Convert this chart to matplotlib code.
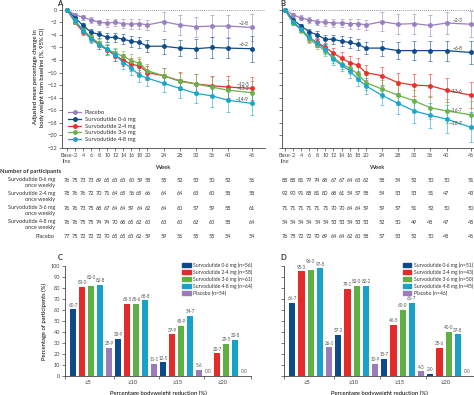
import matplotlib.pyplot as plt
import matplotlib.transforms as mtransforms
from matplotlib.colors import to_rgba
from matplotlib.patches import Patch

plt.rcParams['font.family'] = ['Lato', 'DejaVu Sans']
plt.rcParams['font.size'] = 4
plt.rcParams['axes.edgecolor'] = '#444444'
plt.rcParams['xtick.color'] = '#444444'
plt.rcParams['ytick.color'] = '#444444'
plt.rcParams['text.color'] = '#333333'

# ---- data ----
weeks = [0, 2, 4, 6, 8, 10, 12, 14, 16, 18, 20, 24, 28, 32, 36, 40, 46]
week_labels = ['Base-\nline', '2', '4', '6', '8', '10', '12', '14', '16', '18', '20',
               '24', '28', '32', '36', '40', '46']

series_names = ['Placebo', 'Survodutide 0·6 mg', 'Survodutide 2·4 mg',
                'Survodutide 3·6 mg', 'Survodutide 4·8 mg']
colors = ['#9a7fc0', '#0f4c8a', '#e8302c', '#6cb24a', '#1aa6cc']

# panel A: mean % change
a_placebo = [0, -0.8, -1.2, -1.6, -2.0, -2.1, -2.0, -2.2, -2.3, -2.2, -2.4, -1.9, -2.4, -2.7, -2.6, -2.6, -2.8]
a_06 = [0, -1.3, -2.5, -3.6, -3.9, -4.4, -4.4, -4.7, -5.0, -5.2, -5.8, -5.8, -6.1, -6.2, -6.0, -6.1, -6.2]
a_24 = [0, -2.0, -3.5, -4.5, -5.6, -6.4, -7.3, -8.0, -8.7, -8.9, -10.0, -10.5, -11.3, -11.8, -12.1, -12.3, -12.5]
a_36 = [0, -1.9, -3.2, -4.4, -5.3, -6.3, -6.9, -7.4, -8.1, -8.5, -9.7, -10.5, -11.4, -11.8, -12.3, -12.8, -13.2]
a_48 = [0, -1.7, -3.3, -4.7, -5.6, -6.3, -7.2, -8.4, -9.3, -10.4, -10.9, -11.7, -12.5, -13.3, -13.7, -14.4, -14.9]
a_err_placebo = [0, 0.3, 0.4, 0.45, 0.45, 0.6, 0.6, 0.7, 0.8, 0.8, 0.8, 1.5, 1.6, 1.6, 1.8, 1.8, 2.2]
a_err_06 = [0, 0.3, 0.4, 0.5, 0.6, 0.7, 0.7, 0.8, 0.9, 0.9, 1.0, 1.2, 1.3, 1.5, 1.6, 1.6, 2.1]
a_err_24 = [0, 0.3, 0.45, 0.55, 0.65, 0.75, 0.8, 0.9, 1.0, 1.05, 1.1, 1.3, 1.4, 1.5, 1.6, 1.7, 1.8]
a_err_36 = [0, 0.3, 0.45, 0.55, 0.65, 0.75, 0.8, 0.9, 1.0, 1.05, 1.1, 1.3, 1.4, 1.5, 1.6, 1.7, 1.8]
a_err_48 = [0, 0.3, 0.45, 0.55, 0.7, 0.8, 0.9, 1.0, 1.1, 1.15, 1.2, 1.4, 1.5, 1.6, 1.7, 1.8, 1.9]
a_end_labels = ['−2·8', '−6·2', '−12·5', '−13·2', '−14·9']

# panel B: mean % change
b_placebo = [0, -0.8, -1.3, -1.6, -1.9, -2.0, -2.1, -2.1, -2.2, -2.2, -2.4, -1.9, -2.3, -2.2, -2.5, -2.1, -2.3]
b_06 = [0, -1.6, -2.6, -3.5, -4.0, -4.7, -4.7, -5.0, -5.2, -5.5, -6.1, -6.1, -6.5, -6.5, -6.5, -6.5, -6.8]
b_24 = [0, -2.0, -3.1, -4.5, -5.2, -6.0, -6.9, -7.7, -8.4, -8.8, -10.0, -10.5, -11.6, -12.0, -12.1, -12.8, -13.6]
b_36 = [0, -2.1, -3.2, -4.7, -5.6, -6.6, -7.6, -8.6, -9.3, -10.2, -11.6, -12.6, -13.6, -14.5, -15.6, -16.1, -16.7]
b_48 = [0, -1.9, -3.1, -4.4, -5.3, -6.3, -7.9, -8.8, -9.7, -11.0, -12.1, -13.6, -14.9, -16.1, -16.8, -17.4, -18.7]
b_err_placebo = [0, 0.3, 0.4, 0.5, 0.5, 0.6, 0.6, 0.7, 0.8, 0.8, 0.8, 1.5, 1.6, 1.6, 1.7, 1.8, 2.1]
b_err_06 = [0, 0.3, 0.4, 0.5, 0.6, 0.7, 0.7, 0.8, 0.9, 0.9, 1.0, 1.2, 1.4, 1.5, 1.6, 1.6, 1.9]
b_err_24 = [0, 0.3, 0.45, 0.55, 0.65, 0.75, 0.8, 0.9, 1.0, 1.1, 1.2, 1.4, 1.6, 1.7, 1.8, 1.9, 2.1]
b_err_36 = [0, 0.3, 0.45, 0.55, 0.65, 0.75, 0.85, 0.9, 1.0, 1.1, 1.2, 1.4, 1.6, 1.7, 1.8, 1.9, 2.2]
b_err_48 = [0, 0.3, 0.45, 0.6, 0.7, 0.8, 0.9, 1.0, 1.1, 1.2, 1.3, 1.5, 1.7, 1.9, 2.0, 2.2, 2.4]
b_end_labels = ['−2·3', '−6·8', '−13·6', '−16·7', '−18·7']

# number of participants
row_labels = ['Survodutide 0·6 mg\nonce weekly', 'Survodutide 2·4 mg\nonce weekly',
              'Survodutide 3·6 mg\nonce weekly', 'Survodutide 4·8 mg\nonce weekly', 'Placebo']
n_a_06 = [76, 75, 73, 73, 69, 65, 63, 63, 60, 59, 58, 55, 52, 53, 50, 52, 56]
n_a_24 = [78, 76, 76, 72, 70, 71, 64, 65, 56, 65, 66, 64, 64, 63, 60, 58, 58]
n_a_36 = [76, 76, 73, 75, 68, 67, 64, 64, 59, 64, 62, 64, 60, 57, 59, 58, 61]
n_a_48 = [76, 76, 75, 75, 74, 74, 70, 68, 65, 62, 60, 63, 60, 62, 60, 58, 64]
n_a_placebo = [77, 75, 72, 72, 72, 70, 65, 65, 63, 62, 59, 59, 56, 55, 55, 54, 54]
n_b_06 = [88, 88, 81, 79, 74, 68, 67, 67, 64, 63, 62, 58, 54, 52, 50, 50, 51]
n_b_24 = [92, 90, 91, 88, 81, 80, 68, 61, 54, 57, 58, 54, 53, 53, 51, 47, 43]
n_b_36 = [71, 71, 71, 71, 71, 71, 70, 70, 64, 64, 59, 59, 57, 51, 52, 50, 50]
n_b_48 = [54, 54, 54, 54, 54, 54, 53, 53, 54, 53, 53, 52, 50, 49, 48, 47, 45]
n_b_placebo = [76, 75, 72, 72, 70, 69, 64, 64, 62, 60, 58, 57, 53, 52, 50, 48, 46]

# bar panels: % of participants reaching each threshold
thresholds = ['≥5', '≥10', '≥15', '≥20']
c_06 = [60.7, 33.9, 12.5, 0.0]
c_24 = [81.0, 65.5, 37.9, 20.7]
c_36 = [82.0, 65.6, 45.9, 29.5]
c_48 = [82.8, 68.8, 54.7, 32.8]
c_placebo = [25.9, 11.1, 5.6, 0.0]
c_legend = ['Survodutide 0·6 mg (n=56)', 'Survodutide 2·4 mg (n=58)', 'Survodutide 3·6 mg (n=61)',
            'Survodutide 4·8 mg (n=64)', 'Placebo (n=54)']
d_06 = [66.7, 37.3, 15.7, 2.0]
d_24 = [95.3, 79.1, 46.5, 25.6]
d_36 = [96.0, 82.0, 60.0, 40.0]
d_48 = [97.8, 82.2, 66.7, 37.8]
d_placebo = [26.1, 10.9, 4.3, 0.0]
d_legend = ['Survodutide 0·6 mg (n=51)', 'Survodutide 2·4 mg (n=43)', 'Survodutide 3·6 mg (n=50)',
            'Survodutide 4·8 mg (n=45)', 'Placebo (n=46)']
bar_colors = ['#0d4a8a', '#e52b2a', '#5fb043', '#18a2c9', '#9b7bb9']

W, H = 474, 395
fig = plt.figure(figsize=(W / 100, H / 100), dpi=100)


def box(x0, y0, x1, y1):
    return [x0 / W, 1 - y1 / H, (x1 - x0) / W, (y1 - y0) / H]


def fmt(v):
    return f'{v:.1f}'.replace('.', '·')


axA = fig.add_axes(box(62, 6, 265, 148))
axB = fig.add_axes(box(282, 6, 474, 148))


def line_panel(ax, vals, errs, end_labels, label_dx):
    for v, e, c in zip(vals, errs, colors):
        ax.errorbar(weeks, v, yerr=e, fmt='none', ecolor=to_rgba(c, 0.6),
                    elinewidth=0.65, capsize=1.5, capthick=0.65, zorder=2)
    for v, c, name in zip(vals, colors, series_names):
        ax.plot(weeks, v, color=c, lw=0.9, marker='o', ms=2.5, label=name, zorder=3)
    for v, lab in zip(vals, end_labels):
        ax.text(46 - label_dx, v[-1] + 0.6, lab, ha='right', va='center', fontsize=3.6, color='#444444')
    ax.axhline(0, color='#777777', lw=0.6, ls=(0, (1, 1.5)), zorder=1)
    ax.set_ylim(-22, 0.6)
    ax.set_yticks(range(0, -23, -2))
    ax.set_xticks(weeks)
    ax.set_xticklabels(week_labels)
    ax.tick_params(length=2, width=0.5, pad=1.5, labelsize=4)
    for s in ['top', 'right']:
        ax.spines[s].set_visible(False)
    for s in ['left', 'bottom']:
        ax.spines[s].set_linewidth(0.6)
    ax.set_xlabel('Week', fontsize=4.2, labelpad=1)


line_panel(axA, [a_placebo, a_06, a_24, a_36, a_48],
           [a_err_placebo, a_err_06, a_err_24, a_err_36, a_err_48], a_end_labels, 0.8)
line_panel(axB, [b_placebo, b_06, b_24, b_36, b_48],
           [b_err_placebo, b_err_06, b_err_24, b_err_36, b_err_48], b_end_labels, 2.0)
axA.set_xlim(-1.24, 49.2)
axB.set_xlim(-0.75, 46.8)
axB.set_yticklabels([])
axA.set_ylabel('Adjusted mean percentage change in\nbody weight from baseline (%, 95% CI)',
               fontsize=4.2, labelpad=2)
axA.legend(loc='upper left', bbox_to_anchor=(0.02, 0.285), frameon=False, fontsize=4.2,
           handlelength=2.2, labelspacing=0.3, borderaxespad=0, handletextpad=0.6)

fig.text(57 / W, 1 - 3 / H, 'A', fontsize=5.5, fontweight='bold', va='center')
fig.text(280 / W, 1 - 3 / H, 'B', fontsize=5.5, fontweight='bold', va='center')

# participants table
fig.text(0 / W, 1 - 172 / H, 'Number of participants', fontsize=4.2, fontweight='bold', va='center')
row_y = [180, 194, 208, 222, 236]
rows_a = [n_a_06, n_a_24, n_a_36, n_a_48, n_a_placebo]
rows_b = [n_b_06, n_b_24, n_b_36, n_b_48, n_b_placebo]
tA = mtransforms.blended_transform_factory(axA.transData, fig.transFigure)
tB = mtransforms.blended_transform_factory(axB.transData, fig.transFigure)
for y, lab, ra, rb in zip(row_y, row_labels, rows_a, rows_b):
    fig.text(55 / W, 1 - (y - 2.5) / H, lab, ha='right', va='top', fontsize=4,
             multialignment='right', linespacing=1.25)
    for wk, n in zip(weeks, ra):
        fig.text(wk, 1 - y / H, str(n), transform=tA, ha='center', va='center', fontsize=4)
    for wk, n in zip(weeks, rb):
        fig.text(wk, 1 - y / H, str(n), transform=tB, ha='center', va='center', fontsize=4)

# bar panels
axC = fig.add_axes(box(65, 266, 251, 376))
axD = fig.add_axes(box(284, 266, 474, 376))


def bar_panel(ax, groups, legend_labels, legend_x):
    for k, (vals, c) in enumerate(zip(groups, bar_colors)):
        pos = [5 * g + k for g in range(len(thresholds))]
        ax.bar(pos, vals, width=0.68, color=c, zorder=2)
        for g, (p, v) in enumerate(zip(pos, vals)):
            lift = 4 if (g == 0 and k == 2) else 0
            ax.text(p, v + 1.5 + lift, fmt(v), ha='center', va='bottom', fontsize=3.3, color='#555555')
    ax.set_xlim(-0.9, 19.75)
    ax.set_ylim(0, 100)
    ax.set_yticks(range(0, 101, 10))
    ax.set_xticks([-0.9, 4.5, 9.5, 14.5, 19.75])
    ax.set_xticklabels([])
    ax.set_xticks([5 * g + 1.6 for g in range(len(thresholds))], thresholds, minor=True)
    ax.tick_params(which='major', length=2, width=0.5, labelsize=4, pad=1.5)
    ax.tick_params(which='minor', length=0, labelsize=4.2, pad=3)
    for s in ['top', 'right']:
        ax.spines[s].set_visible(False)
    for s in ['left', 'bottom']:
        ax.spines[s].set_linewidth(0.6)
    ax.set_xlabel('Percentage bodyweight reduction (%)', fontsize=4.2, labelpad=4)
    handles = [Patch(color=c, label=l) for c, l in zip(bar_colors, legend_labels)]
    ax.legend(handles=handles, loc='upper left', bbox_to_anchor=(legend_x, 1.05), frameon=False,
              fontsize=3.6, handlelength=1.7, handleheight=0.9, labelspacing=0.3,
              borderaxespad=0, handletextpad=0.5)


bar_panel(axC, [c_06, c_24, c_36, c_48, c_placebo], c_legend, 0.62)
bar_panel(axD, [d_06, d_24, d_36, d_48, d_placebo], d_legend, 0.615)
axD.set_yticklabels([])
axC.set_ylabel('Percentage of participants (%)', fontsize=4.2, labelpad=3)
fig.text(58 / W, 1 - 258 / H, 'C', fontsize=5.5, fontweight='bold', va='center')
fig.text(280 / W, 1 - 258 / H, 'D', fontsize=5.5, fontweight='bold', va='center')

fig.savefig('out.png', dpi=100)
